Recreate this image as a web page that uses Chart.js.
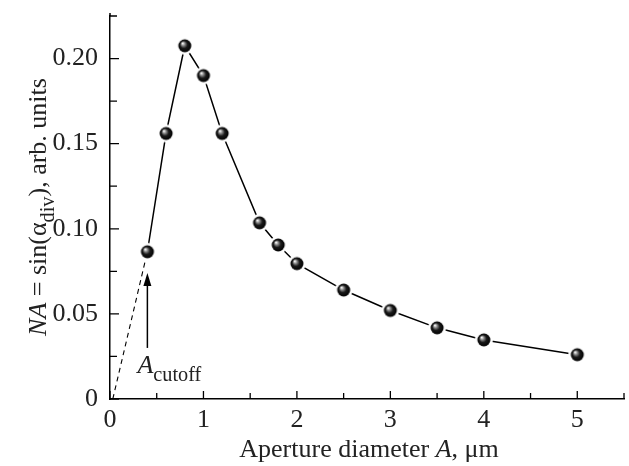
<!DOCTYPE html>
<html>
<head>
<meta charset="utf-8">
<script src="https://cdn.jsdelivr.net/npm/chart.js@4.4.1/dist/chart.umd.min.js"></script>
<style>
  html, body { margin: 0; padding: 0; background: #fff; }
  #wrap { width: 629px; height: 466px; }
</style>
</head>
<body>
<div id="wrap"><canvas id="chart"></canvas></div>
<script>
// measured data
const apertures = [0.4, 0.6, 0.8, 1.0, 1.2, 1.6, 1.8, 2.0, 2.5, 3.0, 3.5, 4.0, 5.0];
const naValues = [0.0865, 0.156, 0.2075, 0.190, 0.156, 0.1035, 0.0905, 0.0795, 0.064, 0.052, 0.0418, 0.0347, 0.026];

// dashed extrapolation towards the origin
const extrapX = [0.03, 0.4];
const extrapY = [0.0, 0.0865];

// cutoff arrow (x, y from, y to)
const cutoffX = 0.4;
const cutoffArrowY = [0.030, 0.074];

const xTicks = [0, 1, 2, 3, 4, 5];
const xMinorTicks = [0.5, 1.5, 2.5, 3.5, 4.5, 5.5];
const yTicks = [0, 0.05, 0.10, 0.15, 0.20];
const yMinorTicks = [0.025, 0.075, 0.125, 0.175, 0.225];

const FONT = '"Liberation Serif", "Times New Roman", serif';
const FS = 26;

// little shaded sphere (with a white halo) used as the marker
function makeBall(r, halo) {
  const R = r + halo;
  const c = document.createElement('canvas');
  c.width = c.height = R * 2 + 2;
  const g = c.getContext('2d');
  const cx = R + 1, cy = R + 1;
  g.fillStyle = '#fff';
  g.beginPath();
  g.arc(cx, cy, R, 0, Math.PI * 2);
  g.fill();
  const grad = g.createRadialGradient(cx - r * 0.35, cy - r * 0.4, r * 0.05, cx, cy, r);
  grad.addColorStop(0, '#ffffff');
  grad.addColorStop(0.25, '#8a8a8a');
  grad.addColorStop(0.55, '#1a1a1a');
  grad.addColorStop(1, '#000000');
  g.fillStyle = grad;
  g.beginPath();
  g.arc(cx, cy, r, 0, Math.PI * 2);
  g.fill();
  return c;
}
const ball = makeBall(6.5, 2.5);

// draw runs of text with italics / subscripts
function drawRuns(ctx, runs, x, y, size) {
  let cx = x;
  runs.forEach(r => {
    const s = r.sub ? size * 0.78 : size;
    ctx.font = (r.italic ? 'italic ' : '') + s + 'px ' + FONT;
    ctx.fillText(r.t, cx, y + (r.sub ? size * 0.3 : 0));
    cx += ctx.measureText(r.t).width;
  });
  return cx - x;
}
function runsWidth(ctx, runs, size) {
  let w = 0;
  runs.forEach(r => {
    const s = r.sub ? size * 0.78 : size;
    ctx.font = (r.italic ? 'italic ' : '') + s + 'px ' + FONT;
    w += ctx.measureText(r.t).width;
  });
  return w;
}

const extras = {
  id: 'extras',
  afterDraw(chart) {
    const ctx = chart.ctx;
    const xs = chart.scales.x, ys = chart.scales.y;
    const area = chart.chartArea;
    ctx.save();
    ctx.strokeStyle = '#000';
    ctx.fillStyle = '#000';
    ctx.lineWidth = 1.3;

    // inner ticks
    ctx.beginPath();
    xTicks.forEach(v => { const p = xs.getPixelForValue(v); ctx.moveTo(p, area.bottom); ctx.lineTo(p, area.bottom - 8); });
    xMinorTicks.forEach(v => { const p = xs.getPixelForValue(v); ctx.moveTo(p, area.bottom); ctx.lineTo(p, area.bottom - 6); });
    yTicks.forEach(v => { const p = ys.getPixelForValue(v); ctx.moveTo(area.left, p); ctx.lineTo(area.left + 9, p); });
    yMinorTicks.forEach(v => { const p = ys.getPixelForValue(v); ctx.moveTo(area.left, p); ctx.lineTo(area.left + 7, p); });
    ctx.stroke();
    // axis line runs a little past the top tick
    ctx.lineWidth = 1.5;
    ctx.beginPath();
    ctx.moveTo(area.left, area.top);
    ctx.lineTo(area.left, area.top - 3);
    ctx.stroke();

    // cutoff arrow
    const ax = xs.getPixelForValue(cutoffX);
    const ay0 = ys.getPixelForValue(cutoffArrowY[0]);
    const ay1 = ys.getPixelForValue(cutoffArrowY[1]);
    ctx.beginPath();
    ctx.moveTo(ax, ay0);
    ctx.lineTo(ax, ay1 + 10);
    ctx.stroke();
    ctx.beginPath();
    ctx.moveTo(ax, ay1);
    ctx.lineTo(ax - 4, ay1 + 13);
    ctx.lineTo(ax + 4, ay1 + 13);
    ctx.closePath();
    ctx.fill();

    // cutoff label
    ctx.fillStyle = '#222';
    ctx.textBaseline = 'alphabetic';
    ctx.textAlign = 'left';
    drawRuns(ctx, [{ t: 'A', italic: true }, { t: 'cutoff', sub: true }], ax - 10, ay0 + 25, FS);

    // x title
    const xt = [{ t: 'Aperture diameter ' }, { t: 'A', italic: true }, { t: ', μm' }];
    const xw = runsWidth(ctx, xt, FS);
    drawRuns(ctx, xt, 369 - xw / 2, 457, FS);

    // y title
    const yt = [{ t: 'NA', italic: true }, { t: ' = sin(α' }, { t: 'div', sub: true }, { t: '), arb. units' }];
    const yw = runsWidth(ctx, yt, FS);
    ctx.translate(46, 207);
    ctx.rotate(-Math.PI / 2);
    drawRuns(ctx, yt, -yw / 2, 0, FS);
    ctx.restore();
  }
};

new Chart(document.getElementById('chart'), {
  type: 'line',
  data: {
    datasets: [
      {
        data: apertures.map((a, i) => ({ x: a, y: naValues[i] })),
        borderColor: '#000',
        borderWidth: 1.5,
        pointStyle: ball,
        pointRadius: 7,
        tension: 0,
        order: 0
      },
      {
        data: extrapX.map((a, i) => ({ x: a, y: extrapY[i] })),
        borderColor: '#000',
        borderWidth: 1.1,
        borderDash: [5, 4],
        pointRadius: 0,
        order: 1
      }
    ]
  },
  plugins: [extras],
  options: {
    responsive: true,
    maintainAspectRatio: false,
    animation: false,
    layout: { autoPadding: false, padding: { top: 16, right: 5, left: 0, bottom: 0 } },
    plugins: { legend: { display: false }, tooltip: { enabled: false } },
    scales: {
      x: {
        type: 'linear',
        min: 0,
        max: 5.5,
        afterFit: s => { s.height = 67; s.paddingRight = 0; s.paddingLeft = 0; },
        afterBuildTicks: s => { s.ticks = xTicks.map(v => ({ value: v })); },
        grid: { display: false, drawTicks: false },
        border: { display: true, color: '#000', width: 1.5 },
        ticks: { color: '#222', padding: 6, font: { family: FONT, size: FS }, callback: v => String(v) }
      },
      y: {
        type: 'linear',
        min: 0,
        max: 0.225,
        afterFit: s => { s.width = 110; s.paddingTop = 0; s.paddingBottom = 0; },
        afterBuildTicks: s => { s.ticks = yTicks.map(v => ({ value: v })); },
        grid: { display: false, drawTicks: false },
        border: { display: true, color: '#000', width: 1.5 },
        ticks: { color: '#222', padding: 12, font: { family: FONT, size: FS }, callback: v => v === 0 ? '0' : v.toFixed(2) }
      }
    }
  }
});
</script>
</body>
</html>
